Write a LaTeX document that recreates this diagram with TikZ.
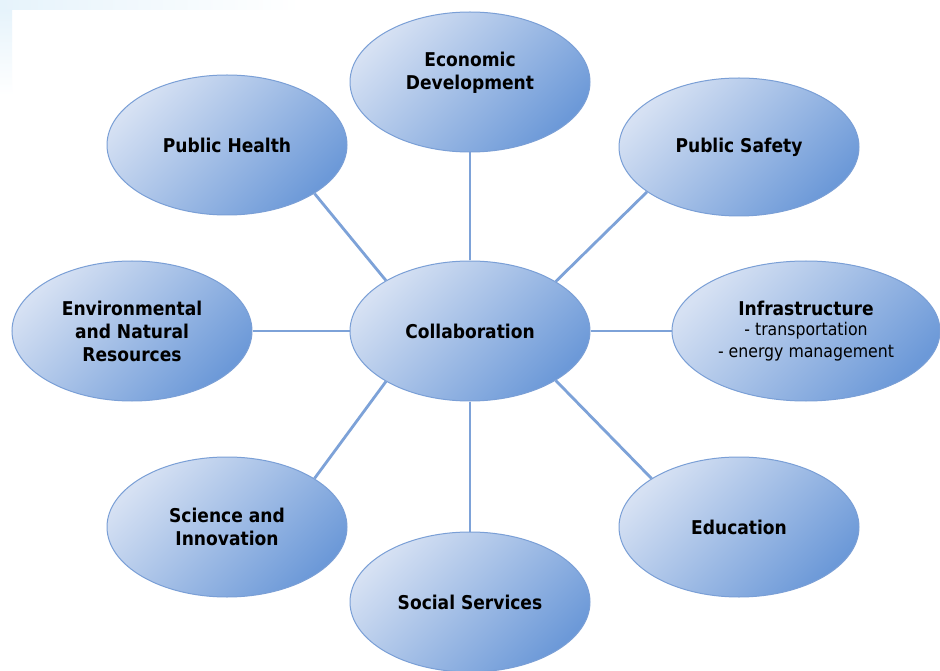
\documentclass[tikz,border=0pt]{standalone}
\usepackage{fontspec}
\setmainfont{DejaVu Sans Condensed}
\usetikzlibrary{shapes.geometric,backgrounds}
\definecolor{ellLight}{HTML}{D6E1F3}
\definecolor{ellDark}{HTML}{6C99D8}
\definecolor{ellBorder}{HTML}{7A9FD6}
\definecolor{lineBlue}{HTML}{7DA2D8}
\definecolor{bgBlue}{HTML}{E6F3FB}
\tikzset{
  bubble/.style={ellipse, draw=ellBorder, line width=1pt,
    top color=ellLight, bottom color=ellDark, shading angle=45,
    minimum width=240pt, minimum height=140pt, inner sep=0pt,
    align=center, font=\fontsize{19}{23}\selectfont\bfseries, text=black},
  link/.style={draw=lineBlue, line width=2.8pt}
}
\newcommand{\subline}[1]{{\fontsize{17.5}{21}\selectfont\mdseries #1}}
\begin{document}
\begin{tikzpicture}[x=1pt,y=-1pt]
\useasboundingbox (0,0) rectangle (940,671);
% nodes
\node[bubble] (collab) at (470,331) {Collaboration};
\node[bubble] (econ) at (470,82) {Economic\\Development\\[-8pt]\strut};
\node[bubble] (health) at (227,145) {Public Health};
\node[bubble, minimum height=138pt] (safety) at (739,147) {Public Safety};
\node[bubble] (env) at (132,331) {Environmental\\and Natural\\Resources};
\node[bubble, minimum width=268pt] (infra) at (806,331) {Infrastructure\\[-3pt]\subline{- transportation}\\[-1pt]\subline{- energy management}};
\node[bubble] (sci) at (227,527) {Science and\\Innovation};
\node[bubble] (social) at (470,602) {Social Services};
\node[bubble] (edu) at (739,527) {Education};
% background and links behind the bubbles
\begin{scope}[on background layer]
\fill[white] (0,0) rectangle (940,671);
\shade[left color=bgBlue, right color=white] (0,0) rectangle (300,10);
\shade[top color=bgBlue, bottom color=white] (0,10) rectangle (12,95);
\draw[link] (collab.north) -- (econ.south);
\draw[link] (collab.south) -- (social.north);
\draw[link] (collab.west) -- (env.east);
\draw[link] (collab.east) -- (infra.west);
\draw[link] (collab.149) -- (health.-29);
\draw[link] (collab.30) -- (safety.206);
\draw[link] (collab.211) -- (sci.29);
\draw[link] (collab.-30) -- (edu.151);
\end{scope}
\end{tikzpicture}
\end{document}
